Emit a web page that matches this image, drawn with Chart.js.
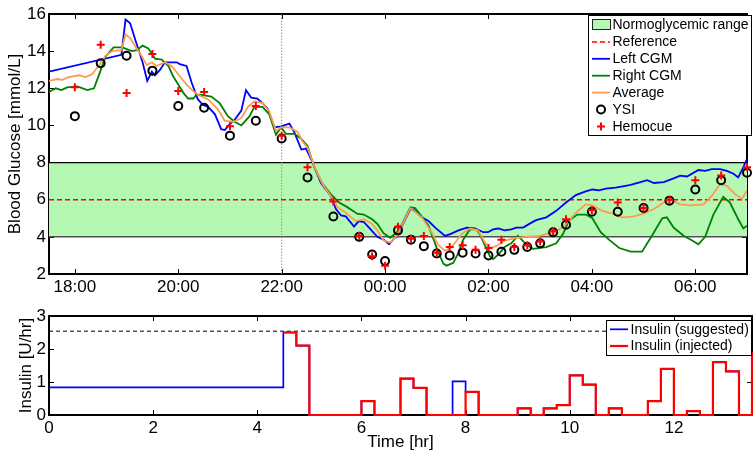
<!DOCTYPE html>
<html>
<head>
<meta charset="utf-8">
<script src="https://cdn.jsdelivr.net/npm/chart.js@4/dist/chart.umd.min.js"></script>
<style>
  body { margin: 0; background: #fff; }
  #wrap { position: relative; width: 753px; height: 453px; }
  canvas { position: absolute; left: 0; }
</style>
</head>
<body>
<div id="wrap">
  <canvas id="glucose" width="753" height="300" style="top:0"></canvas>
  <canvas id="insulin" width="753" height="153" style="top:300px"></canvas>
</div>
<script>
// time is in hours on the clock of the first day (24.5 = 00:30 next day)
const timeSpan = [17.5, 31];
const clockTicks = [18, 20, 22, 24, 26, 28, 30];
const clockLabels = ['18:00', '20:00', '22:00', '00:00', '02:00', '04:00', '06:00'];
const glucoseTicks = [2, 4, 6, 8, 10, 12, 14, 16];
const normoRange = [4, 8];
const refLevel = 6;
const loopStart = 22;

const leftT = [17.5, 18.9, 18.98, 19.07, 19.17, 19.31, 19.4, 19.49, 19.55, 19.65, 19.74, 19.97, 20.03, 20.16, 20.26, 20.38, 20.48, 20.58, 20.71, 20.83, 20.9, 20.99, 21.09, 21.22, 21.31, 21.41, 21.53, 21.63, 21.73, 21.86, 21.99, 22.15, 22.25, 22.38, 22.47, 22.6, 22.76, 22.95, 23.05, 23.15, 23.24, 23.4, 23.49, 23.59, 23.72, 23.85, 23.97, 24.08, 24.17, 24.23, 24.33, 24.49, 24.55, 24.71, 24.84, 24.97, 25.16, 25.26, 25.42, 25.58, 25.74, 25.9, 25.99, 26.09, 26.19, 26.31, 26.44, 26.54, 26.67, 26.79, 26.92, 27.12, 27.31, 27.5, 27.69, 27.88, 28.01, 28.14, 28.27, 28.46, 28.65, 28.75, 28.94, 29.07, 29.2, 29.39, 29.58, 29.71, 29.84, 30.06, 30.19, 30.32, 30.48, 30.61, 30.74, 30.83, 30.93, 31.0];
const leftCgm = [12.9, 13.8, 15.7, 15.5, 14.6, 13.4, 12.4, 12.9, 12.7, 13.0, 13.4, 13.4, 13.3, 13.2, 12.3, 11.4, 11.1, 11.0, 10.6, 9.8, 9.75, 10.05, 10.3, 10.8, 11.9, 11.5, 11.45, 11.2, 10.9, 9.9, 9.95, 10.1, 9.6, 8.7, 8.75, 8.0, 6.9, 6.2, 5.5, 5.15, 5.1, 4.55, 4.85, 4.8, 4.4, 4.0, 3.85, 3.6, 3.9, 4.0, 4.6, 5.5, 5.45, 5.05, 4.85, 4.5, 4.05, 4.15, 4.35, 4.5, 4.45, 4.25, 4.25, 4.4, 4.45, 4.35, 4.4, 4.5, 4.5, 4.7, 4.9, 5.05, 5.4, 5.85, 6.25, 6.45, 6.55, 6.5, 6.6, 6.65, 6.75, 6.8, 6.95, 7.05, 6.9, 6.95, 7.15, 7.3, 7.25, 7.6, 7.55, 7.65, 7.65, 7.55, 7.4, 7.2, 7.75, 8.2];

const rightT = [17.5, 17.63, 17.74, 17.85, 18.05, 18.24, 18.37, 18.49, 18.59, 18.75, 18.92, 19.1, 19.2, 19.31, 19.42, 19.55, 19.68, 19.81, 19.9, 20.0, 20.1, 20.19, 20.29, 20.35, 20.45, 20.64, 20.8, 20.96, 21.09, 21.22, 21.38, 21.47, 21.63, 21.76, 21.89, 21.99, 22.08, 22.25, 22.37, 22.5, 22.63, 22.79, 22.95, 23.11, 23.27, 23.46, 23.59, 23.75, 23.85, 23.97, 24.1, 24.23, 24.33, 24.49, 24.58, 24.71, 24.84, 24.94, 25.03, 25.13, 25.19, 25.32, 25.42, 25.51, 25.64, 25.77, 25.83, 25.93, 26.03, 26.09, 26.19, 26.31, 26.44, 26.57, 26.73, 26.86, 27.12, 27.31, 27.44, 27.56, 27.72, 27.88, 28.01, 28.17, 28.33, 28.53, 28.75, 28.97, 29.17, 29.36, 29.45, 29.58, 29.78, 29.94, 30.06, 30.19, 30.35, 30.54, 30.67, 30.83, 30.93, 31.0];
const rightCgm = [11.8, 12.0, 11.9, 12.05, 12.1, 11.9, 12.0, 12.9, 13.7, 14.2, 14.2, 14.0, 14.05, 14.3, 14.15, 13.6, 13.55, 13.2, 12.65, 12.2, 11.75, 11.45, 11.45, 11.65, 11.65, 11.55, 11.2, 10.5, 10.2, 10.0, 10.5, 11.0, 11.0, 10.6, 9.5, 9.9, 9.55, 9.55, 9.3, 8.9, 7.75, 6.85, 6.3, 5.85, 5.6, 5.25, 5.2, 4.95, 4.7, 4.2, 3.95, 4.25, 4.7, 5.6, 5.55, 5.1, 4.6, 3.85, 3.15, 2.55, 2.45, 2.6, 3.15, 3.85, 4.4, 4.4, 4.15, 3.55, 2.95, 2.8, 3.05, 3.45, 3.65, 4.05, 3.6, 3.35, 3.45, 3.65, 4.15, 4.9, 5.2, 5.2, 5.0, 4.25, 3.85, 3.4, 3.2, 3.2, 4.1, 5.0, 5.05, 4.5, 4.05, 3.8, 3.6, 4.0, 5.2, 6.15, 5.85, 4.95, 4.45, 4.6];

const avgT = [17.5, 17.66, 17.76, 17.88, 18.08, 18.21, 18.33, 18.46, 18.59, 18.72, 18.9, 18.98, 19.07, 19.17, 19.3, 19.39, 19.49, 19.58, 19.74, 19.87, 20.03, 20.16, 20.29, 20.38, 20.58, 20.77, 20.9, 21.06, 21.22, 21.35, 21.47, 21.63, 21.76, 21.89, 21.99, 22.15, 22.31, 22.4, 22.5, 22.63, 22.79, 22.95, 23.08, 23.24, 23.43, 23.59, 23.75, 23.85, 23.97, 24.1, 24.23, 24.33, 24.49, 24.71, 24.9, 25.03, 25.16, 25.29, 25.48, 25.64, 25.8, 25.93, 26.03, 26.15, 26.31, 26.54, 26.73, 26.99, 27.18, 27.37, 27.5, 27.69, 27.88, 28.01, 28.2, 28.4, 28.59, 28.81, 29.0, 29.2, 29.39, 29.52, 29.71, 29.9, 30.16, 30.32, 30.48, 30.61, 30.77, 30.9, 31.0];
const avgCgm = [12.4, 12.5, 12.45, 12.6, 12.7, 12.6, 12.75, 13.2, 13.75, 14.0, 14.05, 14.9, 14.7, 14.25, 13.7, 13.25, 13.4, 13.2, 13.4, 13.2, 12.65, 12.2, 11.85, 11.65, 11.4, 10.85, 10.25, 10.2, 10.4, 11.0, 11.3, 11.2, 10.75, 9.7, 9.9, 9.9, 9.65, 9.15, 8.8, 7.8, 6.85, 6.2, 5.6, 5.3, 4.85, 4.95, 4.7, 4.35, 3.8, 3.7, 4.05, 4.65, 5.55, 5.05, 4.25, 3.55, 3.25, 3.45, 4.15, 4.45, 4.35, 3.7, 3.4, 3.5, 3.8, 3.95, 4.0, 4.05, 4.2, 4.4, 4.7, 5.3, 5.75, 5.7, 5.4, 5.25, 5.05, 5.1, 5.25, 5.5, 5.85, 6.0, 5.75, 5.7, 5.75, 6.2, 6.85, 6.75, 6.3, 6.05, 6.5];

const sampleT = [18, 18.5, 19, 19.5, 20, 20.5, 21, 21.5, 22, 22.5, 23, 23.5, 23.75, 24, 24.25, 24.5, 24.75, 25, 25.25, 25.5, 25.75, 26, 26.25, 26.5, 26.75, 27, 27.25, 27.5, 28, 28.5, 29, 29.5, 30, 30.5, 31];
const ysi = [10.5, 13.35, 13.75, 12.95, 11.05, 10.95, 9.45, 10.25, 9.3, 7.2, 5.1, 4.0, 3.05, 2.7, 4.35, 3.85, 3.5, 3.1, 3.0, 3.15, 3.1, 3.0, 3.2, 3.3, 3.45, 3.65, 4.25, 4.65, 5.35, 5.35, 5.55, 5.95, 6.55, 7.05, 7.45];
const hemocue = [12.05, 14.35, 11.75, 13.85, 11.85, 11.8, 9.95, 11.05, 9.45, 7.75, 5.9, 4.05, 2.95, 2.45, 4.55, 3.9, 4.05, 3.15, 3.45, 3.55, 3.3, 3.4, 3.85, 3.45, 3.55, 3.75, 4.3, 4.95, 5.45, 5.85, 5.55, 6.0, 7.05, 7.3, 7.75];

// insulin, hours since start, value holds until the next time
const insulinSpan = [0, 13.5];
const hourTicks = [0, 2, 4, 6, 8, 10, 12];
const insulinTicks = [0, 1, 2, 3];
const insulinMax = 2.54;
const insulinT = [0, 4.5, 4.75, 5, 6, 6.25, 6.75, 7, 7.25, 7.75, 8, 8.25, 9, 9.25, 9.5, 9.75, 10, 10.25, 10.5, 10.75, 11, 11.5, 11.75, 12, 12.25, 12.5, 12.75, 13, 13.25, 13.5];
const suggested = [0.84, 2.5, 2.1, 0, 0.42, 0, 1.1, 0.82, 0, 1.02, 0.7, 0, 0.2, 0, 0.2, 0.3, 1.2, 0.92, 0, 0.2, 0, 0.42, 1.4, 0, 0.12, 0, 1.6, 1.32, 0, 1.9];
const injected = [null, 2.5, 2.1, 0, 0.42, 0, 1.1, 0.82, 0, 0, 0.7, 0, 0.2, 0, 0.2, 0.3, 1.2, 0.92, 0, 0.2, 0, 0.42, 1.4, 0, 0.12, 0, 1.6, 1.32, 0, 1.9];

const pts = (xs, ys) => xs.map((x, i) => ({ x: x, y: ys[i] }));
const flat = (span, y) => span.map(x => ({ x: x, y: y }));

Chart.defaults.font.family = '"Liberation Sans", Arial, sans-serif';
Chart.defaults.color = '#000';

// matlab style box with inward ticks on all four sides, under the data
const frameTicks = {
  id: 'frameTicks',
  beforeDatasetsDraw(chart) {
    const { ctx, chartArea: a, scales } = chart;
    const len = 5;
    ctx.save();
    ctx.strokeStyle = '#000';
    ctx.lineWidth = 1;
    ctx.beginPath();
    scales.x.ticks.forEach(t => {
      const px = Math.round(scales.x.getPixelForValue(t.value)) + 0.5;
      ctx.moveTo(px, a.bottom); ctx.lineTo(px, a.bottom - len);
      ctx.moveTo(px, a.top); ctx.lineTo(px, a.top + len);
    });
    scales.y.ticks.forEach(t => {
      const py = Math.round(scales.y.getPixelForValue(t.value)) + 0.5;
      ctx.moveTo(a.left, py); ctx.lineTo(a.left + len, py);
      ctx.moveTo(a.right, py); ctx.lineTo(a.right - len, py);
    });
    ctx.stroke();
    ctx.lineWidth = 2;
    ctx.strokeRect(a.left, a.top, a.right - a.left, a.bottom - a.top);
    ctx.restore();
  }
};

// legend in a bordered box, built from the datasets
const boxLegend = {
  id: 'boxLegend',
  afterDraw(chart, args, o) {
    const ctx = chart.ctx;
    const items = chart.data.datasets.filter(d => d.inLegend !== false);
    ctx.save();
    ctx.fillStyle = '#fff';
    ctx.fillRect(o.x, o.y, o.w, o.h);
    ctx.strokeStyle = '#000';
    ctx.lineWidth = 1;
    ctx.strokeRect(o.x + 0.5, o.y + 0.5, o.w, o.h);
    ctx.font = '14px "Liberation Sans", Arial, sans-serif';
    ctx.textBaseline = 'middle';
    items.forEach((d, i) => {
      const cy = o.y + o.first + i * o.row;
      const x0 = o.x + 4, x1 = x0 + 18, cx = (x0 + x1) / 2;
      if (d.fill) {
        ctx.fillStyle = d.backgroundColor;
        ctx.fillRect(x0, cy - 5, 18, 10);
        ctx.lineWidth = 1;
        ctx.strokeStyle = '#222';
        ctx.strokeRect(x0 + 0.5, cy - 5.5, 18, 10);
      } else if (d.showLine === false) {
        ctx.strokeStyle = d.pointBorderColor;
        ctx.lineWidth = d.pointBorderWidth;
        ctx.beginPath();
        if (d.pointStyle === 'cross') {
          const r = d.pointRadius;
          ctx.moveTo(cx - r, cy); ctx.lineTo(cx + r, cy);
          ctx.moveTo(cx, cy - r); ctx.lineTo(cx, cy + r);
        } else {
          ctx.arc(cx, cy, d.pointRadius, 0, Math.PI * 2);
        }
        ctx.stroke();
      } else {
        ctx.strokeStyle = d.borderColor;
        ctx.lineWidth = d.borderWidth;
        ctx.setLineDash(d.borderDash || []);
        ctx.beginPath();
        ctx.moveTo(x0, cy); ctx.lineTo(x1, cy);
        ctx.stroke();
        ctx.setLineDash([]);
      }
      ctx.fillStyle = '#000';
      ctx.fillText(d.label, x1 + 2.5, cy + 0.5);
    });
    ctx.restore();
  }
};

const lineSet = (label, data, color, width, order) => ({
  label: label, data: data, borderColor: color, borderWidth: width,
  pointRadius: 0, fill: false, tension: 0, order: order
});

new Chart(document.getElementById('glucose'), {
  type: 'line',
  data: {
    datasets: [
      {
        label: 'Normoglycemic range', data: flat(timeSpan, normoRange[1]),
        fill: { value: normoRange[0] }, backgroundColor: 'rgb(180,248,180)',
        borderColor: '#000', borderWidth: 1.2, pointRadius: 0, order: 10
      },
      Object.assign(lineSet('Reference', flat(timeSpan, refLevel), 'rgb(255,0,0)', 1.5, 8), { borderDash: [5, 3] }),
      lineSet('Left CGM', pts(leftT, leftCgm), 'rgb(0,0,255)', 1.8, 6),
      lineSet('Right CGM', pts(rightT, rightCgm), 'rgb(0,128,0)', 1.8, 5),
      lineSet('Average', pts(avgT, avgCgm), 'rgb(255,155,80)', 1.8, 4),
      {
        label: 'YSI', data: pts(sampleT, ysi), showLine: false, pointStyle: 'circle',
        pointRadius: 4, pointBorderWidth: 2, pointBorderColor: '#000',
        pointBackgroundColor: 'rgba(0,0,0,0)', order: 2, clip: 6
      },
      {
        label: 'Hemocue', data: pts(sampleT, hemocue), showLine: false, pointStyle: 'cross',
        pointRadius: 4, pointBorderWidth: 2, pointBorderColor: 'rgb(255,0,0)', order: 1, clip: 6
      },
      Object.assign(lineSet('lower edge', flat(timeSpan, normoRange[0]), 'rgb(80,80,80)', 1.5, 9), { inLegend: false }),
      Object.assign(lineSet('loop start', [{ x: loopStart, y: glucoseTicks[0] }, { x: loopStart, y: glucoseTicks[glucoseTicks.length - 1] }], 'rgb(255,100,100)', 1, 7), { borderDash: [1.5, 1.5], inLegend: false })
    ]
  },
  options: {
    responsive: false,
    devicePixelRatio: 1,
    animation: false,
    events: [],
    layout: { padding: { top: 14, right: 1, left: 0, bottom: 0 } },
    plugins: {
      legend: { display: false },
      tooltip: { enabled: false },
      boxLegend: { x: 588, y: 15, w: 163, h: 120, first: 10, row: 16.9 }
    },
    scales: {
      x: {
        type: 'linear', min: timeSpan[0], max: timeSpan[1],
        afterBuildTicks: s => { s.ticks = clockTicks.map(v => ({ value: v })); },
        afterFit: s => { s.height = 26; },
        grid: { display: false, drawTicks: false },
        border: { display: false },
        ticks: {
          padding: 3, font: { size: 17 }, maxRotation: 0, autoSkip: false,
          callback: v => clockLabels[clockTicks.indexOf(v)]
        }
      },
      y: {
        min: glucoseTicks[0], max: glucoseTicks[glucoseTicks.length - 1],
        afterBuildTicks: s => { s.ticks = glucoseTicks.map(v => ({ value: v })); },
        afterFit: s => { s.width = 49; },
        grid: { display: false, drawTicks: false },
        border: { display: false },
        ticks: { padding: 3, font: { size: 17 } },
        title: { display: true, text: 'Blood Glucose [mmol/L]', font: { size: 17 }, padding: { top: 5, bottom: 0 } }
      }
    }
  },
  plugins: [frameTicks, boxLegend]
});

new Chart(document.getElementById('insulin'), {
  type: 'line',
  data: {
    datasets: [
      Object.assign(lineSet('Insulin (suggested)', pts(insulinT, suggested), 'rgb(0,0,255)', 1.7, 2), { stepped: true, clip: 4 }),
      Object.assign(lineSet('Insulin (injected)', pts(insulinT, injected), 'rgb(255,0,0)', 2.2, 1), { stepped: true, spanGaps: false, clip: 4 }),
      Object.assign(lineSet('max rate', flat(insulinSpan, insulinMax), '#000', 1, 3), { borderDash: [4, 3], inLegend: false })
    ]
  },
  options: {
    responsive: false,
    devicePixelRatio: 1,
    animation: false,
    events: [],
    layout: { padding: { top: 16, right: 1, left: 0, bottom: 0 } },
    plugins: {
      legend: { display: false },
      tooltip: { enabled: false },
      boxLegend: { x: 606, y: 20, w: 145, h: 35, first: 9.3, row: 16.7 }
    },
    scales: {
      x: {
        type: 'linear', min: insulinSpan[0], max: insulinSpan[1],
        afterBuildTicks: s => { s.ticks = hourTicks.map(v => ({ value: v })); },
        afterFit: s => { s.height = 38; },
        grid: { display: false, drawTicks: false },
        border: { display: false },
        ticks: { padding: 3, font: { size: 17 }, maxRotation: 0, autoSkip: false },
        title: { display: true, text: 'Time [hr]', font: { size: 17 }, padding: { top: 0, bottom: 0 } }
      },
      y: {
        min: insulinTicks[0], max: insulinTicks[insulinTicks.length - 1],
        afterBuildTicks: s => { s.ticks = insulinTicks.map(v => ({ value: v })); },
        afterFit: s => { s.width = 49; },
        grid: { display: false, drawTicks: false },
        border: { display: false },
        ticks: { padding: 3, font: { size: 17 } },
        title: { display: true, text: 'Insulin [U/hr]', font: { size: 17 }, padding: { top: 16, bottom: 0 } }
      }
    }
  },
  plugins: [frameTicks, boxLegend]
});
</script>
</body>
</html>
